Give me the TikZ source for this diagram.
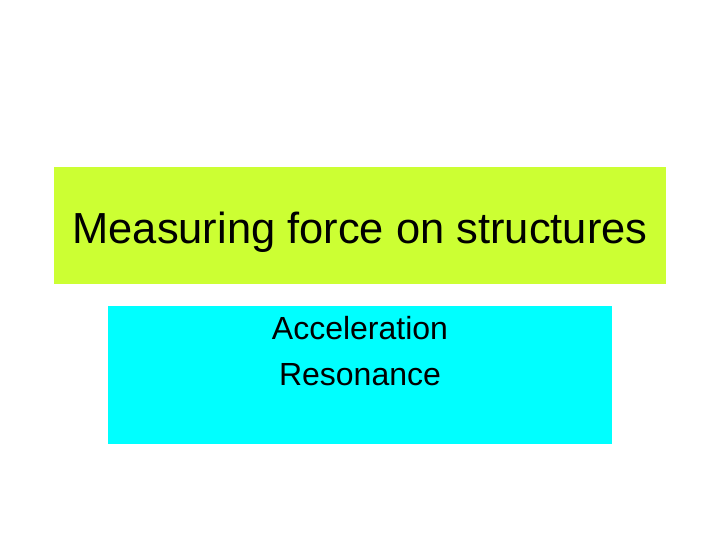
\documentclass[tikz,border=0pt]{standalone}
\usepackage{fontspec}
\setmainfont{Liberation Sans}
\definecolor{titlegreen}{HTML}{CCFF33}
\definecolor{bodycyan}{HTML}{00FFFF}
\begin{document}
\begin{tikzpicture}[x=0.75pt,y=-0.75pt,
  titletext/.style={anchor=base,inner sep=0pt,font=\fontsize{32.6}{40}\selectfont},
  bodytext/.style={anchor=base,inner sep=0pt,font=\fontsize{24}{29}\selectfont}]
\useasboundingbox (0,0) rectangle (720,540);
\fill[white] (0,0) rectangle (720,540);
\fill[titlegreen] (54,167) rectangle (666,284);
\fill[bodycyan] (108,306) rectangle (612,444);
\node[titletext] (title) at (360,243) {Measuring force on structures};
\node[bodytext] (acc) at (360,339) {Acceleration};
\node[bodytext] (res) at (360,385) {Resonance};
\end{tikzpicture}
\end{document}
